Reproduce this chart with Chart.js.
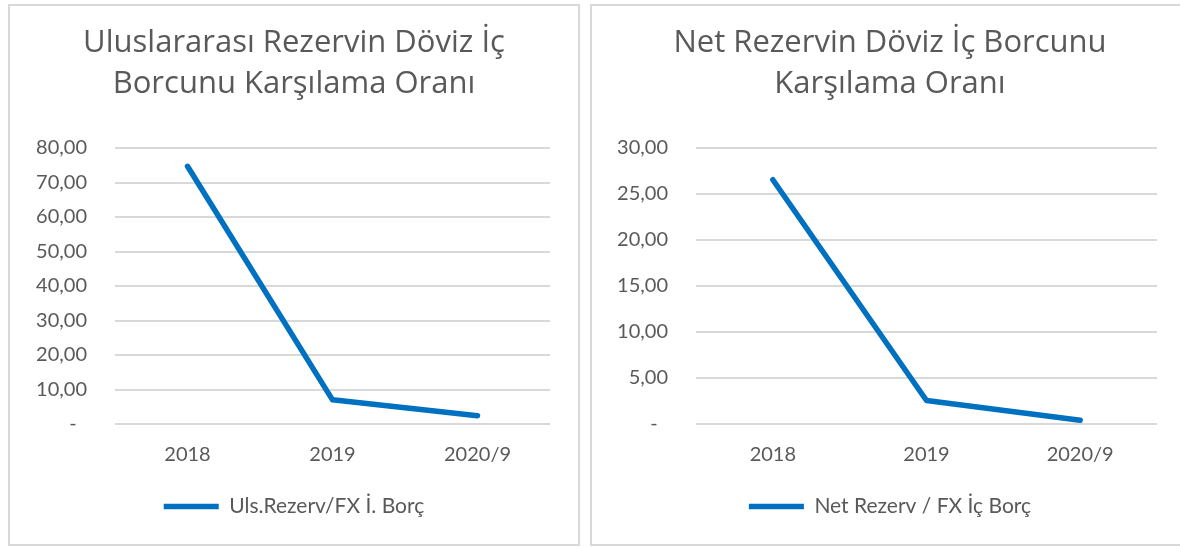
<!DOCTYPE html>
<html>
<head>
<meta charset="utf-8">
<script src="https://cdn.jsdelivr.net/npm/chart.js@4.4.1/dist/chart.umd.min.js"></script>
<style>
  html, body { margin: 0; padding: 0; background: #ffffff; overflow: hidden; }
  body { width: 1180px; height: 547px; position: relative; }
  .panel { position: absolute; box-sizing: border-box; border: 2px solid #d9d9d9; background: #fff; }
  #p1 { left: 8px; top: 4px; width: 572px; height: 542px; }
  #p2 { left: 590px; top: 4px; width: 600px; height: 542px; }
  .panel canvas { display: block; }
</style>
</head>
<body>
<div class="panel" id="p1"><canvas id="c1" width="568" height="538"></canvas></div>
<div class="panel" id="p2"><canvas id="c2" width="596" height="538"></canvas></div>
<script>
// ---- data ----
const categories = ['2018', '2019', '2020/9'];
const ulsValues = [74.7, 7.0, 2.4];
const netValues = [26.55, 2.55, 0.4];
const ulsTitle = ['Uluslararası Rezervin Döviz İç', 'Borcunu Karşılama Oranı'];
const netTitle = ['Net Rezervin Döviz İç Borcunu', 'Karşılama Oranı'];
const ulsLabel = 'Uls.Rezerv/FX İ. Borç';
const netLabel = 'Net Rezerv / FX İç Borç';
const ulsTicks = { max: 80, step: 10 };
const netTicks = { max: 30, step: 5 };

const FONT = 'Lato';
const TITLE_FONT = 'Open Sans';
const TXT = '#595959';
const BLUE = '#0070C0';
const GRID = '#d9d9d9';

function fmt(v) {
  if (v === 0) return '-  ';
  return v.toFixed(2).replace('.', ',');
}

function makeChart(id, labels, values, title, label, tk, yWidth, sidePad) {
  return new Chart(document.getElementById(id), {
    type: 'line',
    data: {
      labels: labels,
      datasets: [{
        label: label,
        data: values,
        borderColor: BLUE,
        backgroundColor: BLUE,
        borderWidth: 5.5,
        borderCapStyle: 'round',
        borderJoinStyle: 'round',
        pointRadius: 0,
        pointHoverRadius: 0,
        tension: 0,
        fill: false
      }]
    },
    options: {
      responsive: false,
      animation: false,
      devicePixelRatio: 1,
      layout: { padding: { left: sidePad, right: sidePad, top: 0, bottom: 17 } },
      plugins: {
        tooltip: { enabled: false },
        title: {
          display: true,
          text: title,
          color: TXT,
          font: { family: TITLE_FONT, size: 31, weight: 'normal', lineHeight: 41 / 31 },
          padding: { top: 17, bottom: 43 }
        },
        legend: {
          display: true,
          position: 'bottom',
          labels: {
            color: TXT,
            font: { family: FONT, size: 21 },
            usePointStyle: true,
            pointStyle: 'line',
            pointStyleWidth: 55,
            boxHeight: 21,
            padding: 10
          }
        }
      },
      scales: {
        x: {
          offset: true,
          grid: { display: false, drawTicks: false },
          border: { display: false },
          ticks: { color: TXT, font: { family: FONT, size: 20 }, padding: 19, maxRotation: 0 }
        },
        y: {
          min: 0,
          max: tk.max,
          afterFit: function (s) {
            s.width = yWidth;
            // allow tick labels to extend into the layout padding without clipping
            s._computeLabelArea = function () { return undefined; };
          },
          grid: { color: GRID, lineWidth: 2, drawTicks: false },
          border: { display: false },
          ticks: {
            stepSize: tk.step,
            color: TXT,
            font: { family: FONT, size: 20 },
            padding: 28,
            callback: function (v) { return fmt(v); }
          }
        }
      }
    }
  });
}

makeChart('c1', categories, ulsValues, ulsTitle, ulsLabel, ulsTicks, 105 - 28, 28);
makeChart('c2', categories, netValues, netTitle, netLabel, netTicks, 104 - 31, 31);
</script>
</body>
</html>
